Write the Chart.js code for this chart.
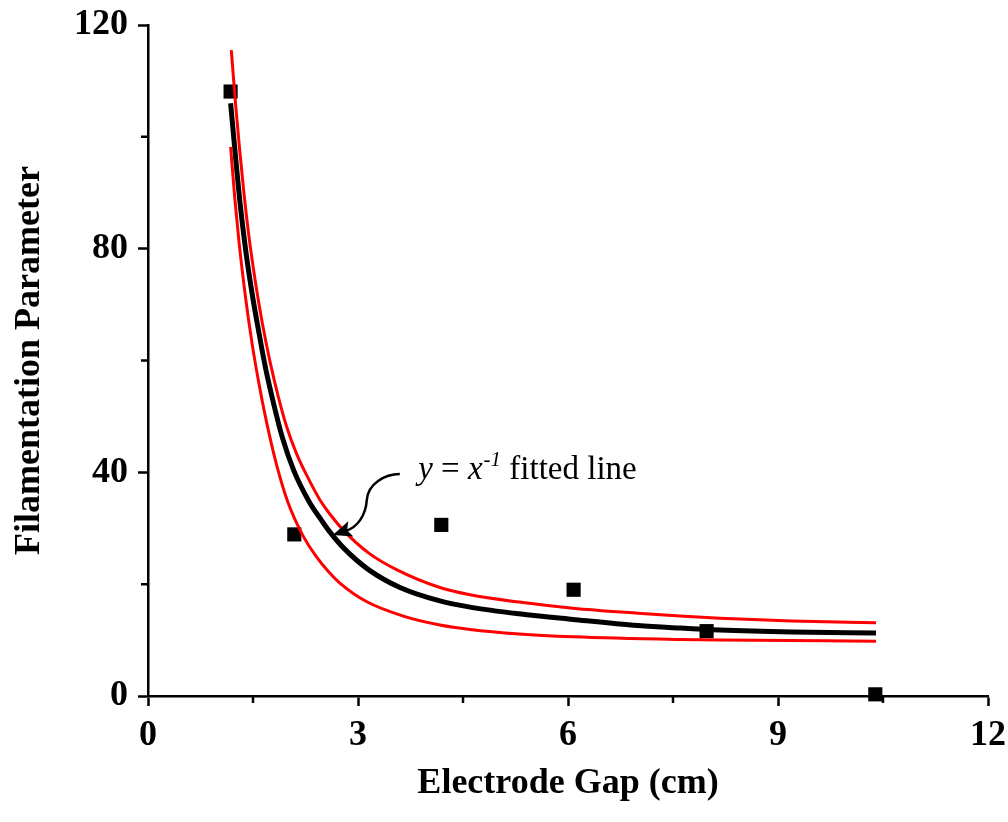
<!DOCTYPE html>
<html>
<head>
<meta charset="utf-8">
<script src="https://cdn.jsdelivr.net/npm/chart.js@4.4.1/dist/chart.umd.min.js"></script>
<style>
  html, body { margin: 0; padding: 0; background: #fff; }
  .chart-container { width: 1008px; height: 822px; }
</style>
</head>
<body>
<div class="chart-container"><canvas id="myChart" width="1008" height="822"></canvas></div>
<script>
// measured points
var gapCm = [1.18, 2.09, 4.19, 6.08, 7.98, 10.39];
var filParam = [108.1, 28.9, 30.6, 19.0, 11.6, 0.3];

// y = x^-1 fitted line
var fitX = [1.18, 1.25, 1.31, 1.40, 1.50, 1.57, 1.68, 1.80, 1.92, 2.08, 2.3, 2.48, 2.6, 2.8, 3.15, 3.6, 4.17, 4.6, 5.3, 6.07, 7.0, 7.6, 8.17, 9.2, 10.4];
var fitY = [106.0, 96.5, 88.7, 79.3, 71.0, 66.0, 58.6, 52.0, 46.2, 40.4, 34.8, 31.4, 29.3, 26.4, 22.6, 19.4, 17.0, 15.9, 14.7, 13.7, 12.6, 12.15, 11.8, 11.45, 11.25];

// red band curves
var upperX = [1.19, 1.25, 1.31, 1.37, 1.44, 1.54, 1.64, 1.75, 1.86, 1.98, 2.12, 2.27, 2.45, 2.6, 2.81, 3.15, 3.55, 4.17, 4.6, 5.3, 6.07, 7.0, 7.6, 8.17, 9.2, 10.4];
var upperY = [115.5, 106.0, 97.6, 90.0, 82.4, 73.6, 66.2, 59.4, 53.6, 48.2, 43.4, 39.4, 35.2, 32.5, 29.4, 25.6, 22.6, 19.4, 18.1, 16.8, 15.7, 14.8, 14.3, 13.9, 13.4, 13.1];
var lowerX = [1.18, 1.24, 1.30, 1.39, 1.48, 1.58, 1.69, 1.84, 2.0, 2.2, 2.4, 2.58, 2.74, 3.12, 3.67, 4.17, 4.6, 5.3, 6.07, 7.6, 8.17, 10.4];
var lowerY = [98.2, 89.0, 81.2, 71.6, 63.6, 56.2, 49.2, 41.2, 34.6, 29.0, 25.0, 22.2, 20.2, 16.9, 14.2, 12.7, 11.9, 11.1, 10.6, 10.1, 10.0, 9.8];

var xTicks = [0, 3, 6, 9, 12];
var yTicks = [0, 40, 80, 120];

var serif = '"Liberation Serif", "Times New Roman", serif';

function pts(xs, ys) {
  return xs.map(function (x, i) { return { x: x, y: ys[i] }; });
}

// short minor ticks (Chart.js draws all ticks the same length)
var minorTicks = {
  id: 'minorTicks',
  afterDraw: function (chart) {
    var ctx = chart.ctx, xs = chart.scales.x, ys = chart.scales.y;
    ctx.save();
    ctx.strokeStyle = '#000';
    ctx.lineWidth = 2.5;
    ctx.beginPath();
    xs.ticks.forEach(function (t) {
      if (xTicks.indexOf(t.value) < 0) {
        var px = xs.getPixelForValue(t.value);
        ctx.moveTo(px, ys.bottom);
        ctx.lineTo(px, ys.bottom + 7);
      }
    });
    ys.ticks.forEach(function (t) {
      if (yTicks.indexOf(t.value) < 0) {
        var py = ys.getPixelForValue(t.value);
        ctx.moveTo(xs.left, py);
        ctx.lineTo(xs.left - 7, py);
      }
    });
    ctx.stroke();
    ctx.restore();
  }
};

// "y = x^-1 fitted line" label with curved arrow
var fitLabel = {
  id: 'fitLabel',
  afterDraw: function (chart) {
    var ctx = chart.ctx, xs = chart.scales.x, ys = chart.scales.y;
    var tx = xs.getPixelForValue(2.64), ty = ys.getPixelForValue(28.8);
    var lx = xs.getPixelForValue(3.86), ly = ys.getPixelForValue(38.8);
    ctx.save();
    ctx.fillStyle = '#000';
    ctx.textBaseline = 'alphabetic';
    var x = lx;
    ctx.font = 'italic 33px ' + serif;
    ctx.fillText('y', x, ly); x += ctx.measureText('y').width;
    ctx.font = '33px ' + serif;
    ctx.fillText(' = ', x, ly); x += ctx.measureText(' = ').width;
    ctx.font = 'italic 33px ' + serif;
    ctx.fillText('x', x, ly); x += ctx.measureText('x').width + 1;
    ctx.font = 'italic 21px ' + serif;
    ctx.fillText('-1', x, ly - 13); x += ctx.measureText('-1').width;
    ctx.font = '33px ' + serif;
    ctx.fillText(' fitted line', x, ly);

    // arrow
    ctx.strokeStyle = '#000';
    ctx.lineWidth = 2.5;
    ctx.beginPath();
    ctx.moveTo(tx + 67, ty - 61);
    ctx.bezierCurveTo(tx + 52, ty - 61, tx + 35, ty - 51, tx + 34, ty - 35);
    ctx.bezierCurveTo(tx + 33, ty - 20, tx + 25, ty - 8, tx + 13, ty - 4);
    ctx.stroke();
    // head
    var ang = Math.atan2(-5, 15);
    ctx.translate(tx, ty);
    ctx.rotate(ang);
    ctx.beginPath();
    ctx.moveTo(0, 0);
    ctx.lineTo(19, -8);
    ctx.lineTo(15, 0);
    ctx.lineTo(19, 8);
    ctx.closePath();
    ctx.fill();
    ctx.restore();
  }
};

var ctx = document.getElementById('myChart').getContext('2d');
var myChart = new Chart(ctx, {
  type: 'scatter',
  data: {
    datasets: [
      {
        label: 'upper',
        data: pts(upperX, upperY),
        showLine: true,
        borderColor: '#f00',
        borderWidth: 3,
        pointRadius: 0,
        cubicInterpolationMode: 'monotone'
      },
      {
        label: 'lower',
        data: pts(lowerX, lowerY),
        showLine: true,
        borderColor: '#f00',
        borderWidth: 3,
        pointRadius: 0,
        cubicInterpolationMode: 'monotone'
      },
      {
        label: 'fit',
        data: pts(fitX, fitY),
        showLine: true,
        borderColor: '#000',
        borderWidth: 5,
        pointRadius: 0,
        cubicInterpolationMode: 'monotone'
      },
      {
        label: 'Filamentation Parameter',
        data: pts(gapCm, filParam),
        pointStyle: 'rect',
        pointRadius: 10,
        pointBackgroundColor: '#000',
        pointBorderWidth: 0,
        clip: false
      }
    ]
  },
  options: {
    responsive: false,
    animation: false,
    devicePixelRatio: 1,
    layout: { padding: { top: 25, right: 20, left: 0, bottom: 0 } },
    plugins: {
      legend: { display: false },
      tooltip: { enabled: false }
    },
    scales: {
      x: {
        type: 'linear',
        min: 0,
        max: 12,
        afterFit: function (s) {
          s.height = 126;
          s.paddingLeft = 0;
          s.paddingRight = 0;
        },
        ticks: {
          stepSize: 1.5,
          autoSkip: false,
          maxRotation: 0,
          padding: 8,
          color: '#000',
          font: { family: serif, size: 36, weight: 'bold' },
          callback: function (v) { return xTicks.indexOf(v) >= 0 ? String(v) : ''; }
        },
        grid: {
          drawOnChartArea: false,
          tickLength: 10,
          tickWidth: 2.5,
          tickColor: function (c) { return c.tick && xTicks.indexOf(c.tick.value) >= 0 ? '#000' : 'rgba(0,0,0,0)'; }
        },
        border: { display: true, color: '#000', width: 2.5 },
        title: {
          display: true,
          text: 'Electrode Gap (cm)',
          color: '#000',
          font: { family: serif, size: 36, weight: 'bold' },
          padding: { top: 0, bottom: 17 }
        }
      },
      y: {
        min: 0,
        max: 120,
        afterFit: function (s) {
          s.width = 148;
          s.paddingTop = 0;
          s.paddingBottom = 0;
        },
        ticks: {
          stepSize: 20,
          autoSkip: false,
          padding: 10,
          color: '#000',
          font: { family: serif, size: 36, weight: 'bold' },
          callback: function (v) { return yTicks.indexOf(v) >= 0 ? String(v) : ''; }
        },
        grid: {
          drawOnChartArea: false,
          tickLength: 10,
          tickWidth: 2.5,
          tickColor: function (c) { return c.tick && yTicks.indexOf(c.tick.value) >= 0 ? '#000' : 'rgba(0,0,0,0)'; }
        },
        border: { display: true, color: '#000', width: 2.5 },
        title: {
          display: true,
          text: 'Filamentation Parameter',
          color: '#000',
          font: { family: serif, size: 36, weight: 'bold' },
          padding: { top: 8, bottom: 0 }
        }
      }
    }
  },
  plugins: [minorTicks, fitLabel]
});
</script>
</body>
</html>
